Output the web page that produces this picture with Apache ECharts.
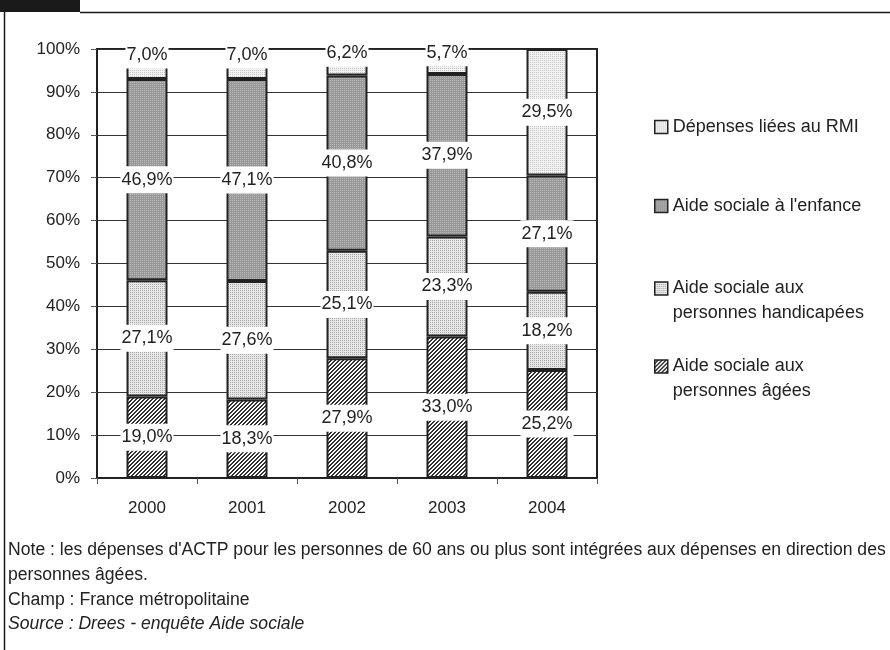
<!DOCTYPE html>
<html>
<head>
<meta charset="utf-8">
<script src="https://cdn.jsdelivr.net/npm/echarts@6/dist/echarts.min.js"></script>
<style>
  html, body { margin: 0; padding: 0; background: #fff; }
  #chart { width: 890px; height: 650px; }
</style>
</head>
<body>
<div id="chart"></div>
<script>
// Répartition des dépenses d'aide sociale par domaine (en %)
const years = ['2000', '2001', '2002', '2003', '2004'];
const agees = [19.0, 18.3, 27.9, 33.0, 25.2];
const handicapees = [27.1, 27.6, 25.1, 23.3, 18.2];
const enfance = [46.9, 47.1, 40.8, 37.9, 27.1];
const rmi = [7.0, 7.0, 6.2, 5.7, 29.5];

const NAME_AGEES = 'Aide sociale aux\npersonnes âgées';
const NAME_HANDI = 'Aide sociale aux\npersonnes handicapées';
const NAME_ENF = "Aide sociale à l'enfance";
const NAME_RMI = 'Dépenses liées au RMI';

const FONT = '"Liberation Sans", Arial, sans-serif';
const INK = '#222';

// Small repeating pixel tiles used as fills
function tile(size, bg, fg, test) {
  const c = document.createElement('canvas');
  c.width = size; c.height = size;
  const g = c.getContext('2d');
  g.fillStyle = bg; g.fillRect(0, 0, size, size);
  g.fillStyle = fg;
  for (let y = 0; y < size; y++) {
    for (let x = 0; x < size; x++) {
      if (test(x, y)) g.fillRect(x, y, 1, 1);
    }
  }
  return { image: c, repeat: 'repeat' };
}

const fillRmi = tile(4, '#f2f2f2', '#c6c6c6', (x, y) => x % 2 === 0 && y % 2 === 0);
const fillEnf = tile(4, '#989898', '#bcbcbc', (x, y) => x % 2 === 0 && y % 2 === 0);
const fillHandi = tile(4, '#e8e8e8', '#a6a6a6', (x, y) => x % 2 === 0 && y % 2 === 0);
const fillAgees = tile(4, '#ffffff', '#333333', (x, y) => (x + y) % 4 === 3 || (x + y) % 4 === 2);

const fmt = v => v.toFixed(1).replace('.', ',') + '%';

const labelStyle = {
  show: true,
  position: 'inside',
  color: INK,
  fontFamily: FONT,
  fontSize: 18,
  backgroundColor: '#fff',
  padding: [5, 1, 4, 1],
  formatter: p => fmt(p.value)
};

function barSeries(name, values, fill, raiseSmall) {
  return {
    name: name,
    type: 'bar',
    stack: 'total',
    barWidth: '41%',
    itemStyle: { color: fill, borderColor: INK, borderWidth: 2 },
    label: labelStyle,
    emphasis: { disabled: true },
    data: values.map(v => raiseSmall && v < 10
      ? { value: v, label: { offset: [0, -9] } }
      : v)
  };
}

// One legend block per entry; for two-line names an empty first line keeps
// the swatch level with the first line of text.
function legendAt(name, top, twoLines) {
  return {
    data: [name],
    left: 654,
    top: top,
    orient: 'vertical',
    padding: 0,
    selectedMode: false,
    icon: 'rect',
    itemWidth: 13,
    itemHeight: 13,
    itemStyle: { borderColor: INK, borderWidth: 1.5 },
    formatter: n => (twoLines ? '\n' : '') + n,
    textStyle: {
      color: INK,
      fontFamily: FONT,
      fontSize: 18,
      lineHeight: 25
    }
  };
}

const chart = echarts.init(document.getElementById('chart'), null, { renderer: 'canvas' });

chart.setOption({
  animation: false,
  backgroundColor: '#fff',
  grid: {
    left: 97, right: 293, top: 49, bottom: 172,
    show: true, borderColor: INK, borderWidth: 2
  },
  xAxis: {
    type: 'category',
    data: years,
    axisLine: { lineStyle: { color: INK, width: 1.5 } },
    axisTick: { show: true, length: 6, lineStyle: { color: '#555' } },
    axisLabel: { color: INK, fontFamily: FONT, fontSize: 17, margin: 22 }
  },
  yAxis: {
    type: 'value',
    min: 0, max: 100, interval: 10,
    axisLine: { show: true, lineStyle: { color: INK, width: 1.5 } },
    axisTick: { show: true, length: 6, lineStyle: { color: '#555' } },
    axisLabel: { color: INK, fontFamily: FONT, fontSize: 17, margin: 17, formatter: '{value}%' },
    splitLine: { lineStyle: { color: '#333', width: 1 } }
  },
  legend: [
    legendAt(NAME_RMI, 114.5, false),
    legendAt(NAME_ENF, 193.5, false),
    legendAt(NAME_HANDI, 251, true),
    legendAt(NAME_AGEES, 329, true)
  ],
  series: [
    barSeries(NAME_AGEES, agees, fillAgees, false),
    barSeries(NAME_HANDI, handicapees, fillHandi, false),
    barSeries(NAME_ENF, enfance, fillEnf, false),
    barSeries(NAME_RMI, rmi, fillRmi, true)
  ],
  graphic: [
    // frame: dark tab and rules
    { type: 'rect', shape: { x: 0, y: 0, width: 80, height: 12 }, style: { fill: '#1a1a1a' }, silent: true },
    { type: 'line', shape: { x1: 80, y1: 12.5, x2: 890, y2: 12.5 }, style: { stroke: '#1a1a1a', lineWidth: 1.5 }, silent: true },
    { type: 'line', shape: { x1: 4.5, y1: 12, x2: 4.5, y2: 650 }, style: { stroke: '#1a1a1a', lineWidth: 1.5 }, silent: true },
    // notes
    { type: 'text', left: 8, top: 541, style: { text: "Note : les dépenses d'ACTP pour les personnes de 60 ans ou plus sont intégrées aux dépenses en direction des", fill: INK, font: '17.6px ' + FONT } },
    { type: 'text', left: 8, top: 566, style: { text: 'personnes âgées.', fill: INK, font: '17.6px ' + FONT } },
    { type: 'text', left: 8, top: 591, style: { text: 'Champ : France métropolitaine', fill: INK, font: '17.6px ' + FONT } },
    { type: 'text', left: 8, top: 615, style: { text: 'Source : Drees - enquête Aide sociale', fill: INK, font: 'italic 17.6px ' + FONT } }
  ]
});
</script>
</body>
</html>
